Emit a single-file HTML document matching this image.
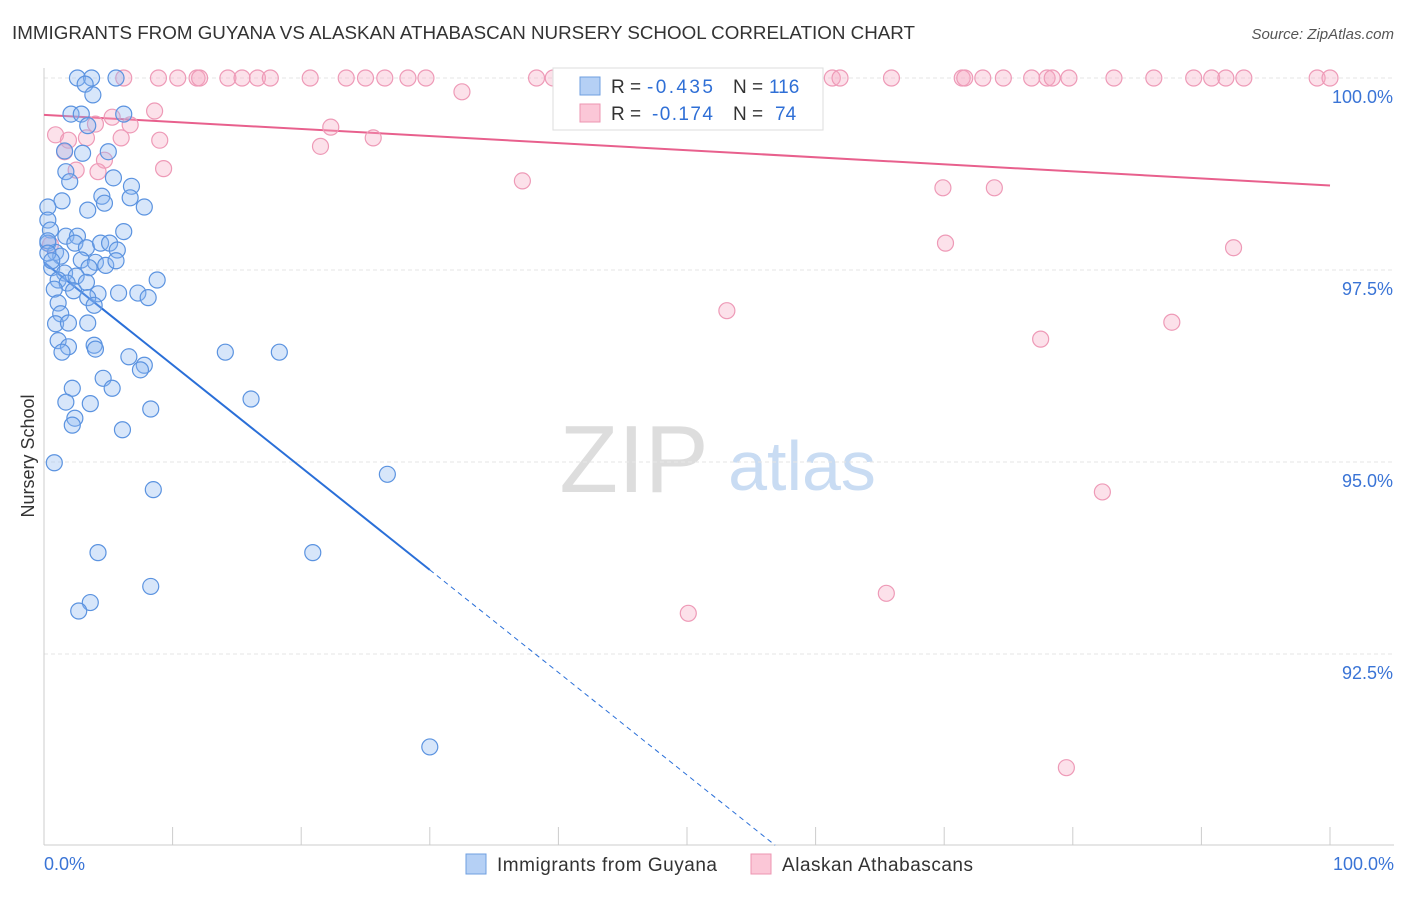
<!DOCTYPE html>
<html><head><meta charset="utf-8"><style>
body{margin:0;background:#fff;font-family:"Liberation Sans",sans-serif}
svg text{font-family:"Liberation Sans",sans-serif}
</style></head><body>
<svg id="chart" width="1406" height="892" xmlns="http://www.w3.org/2000/svg">
<text x="12" y="39" font-size="18" fill="#333" textLength="903" lengthAdjust="spacingAndGlyphs">IMMIGRANTS FROM GUYANA VS ALASKAN ATHABASCAN NURSERY SCHOOL CORRELATION CHART</text>
<text x="1394" y="39" font-size="15" fill="#555" text-anchor="end" font-style="italic">Source: ZipAtlas.com</text>
<text x="34" y="456" font-size="18" fill="#333" text-anchor="middle" transform="rotate(-90 34 456)">Nursery School</text>
<g><text x="634" y="492" font-size="96" fill="#ddd" text-anchor="middle" font-family="Liberation Serif">ZIP</text><text x="802" y="490" font-size="70" fill="#c9dcf3" text-anchor="middle">atlas</text></g>
<g id="grid"></g><g id="axes"></g><g id="lines"></g><g id="pts"></g>
<g>
<rect x="553" y="68" width="270" height="62" fill="#fff" stroke="#ddd"/>
<rect x="580" y="77" width="20" height="18" fill="#b5d0f5" stroke="#6f9fe0"/>
<rect x="580" y="104" width="20" height="18" fill="#fbc7d7" stroke="#ec95b2"/>
<text x="611" y="93" font-size="19" fill="#333">R =</text>
<text x="647" y="93" font-size="19" fill="#2f6fd6" textLength="66">-0.435</text>
<text x="733" y="93" font-size="19" fill="#333">N =</text>
<text x="769" y="93" font-size="19" fill="#2f6fd6">116</text>
<text x="611" y="120" font-size="19" fill="#333">R =</text>
<text x="652" y="120" font-size="19" fill="#2f6fd6" textLength="61">-0.174</text>
<text x="733" y="120" font-size="19" fill="#333">N =</text>
<text x="775" y="120" font-size="19" fill="#2f6fd6">74</text>
</g>
<g>
<rect x="466" y="854" width="20" height="20" fill="#b5d0f5" stroke="#6f9fe0"/>
<text x="497" y="871" font-size="19" fill="#333" textLength="220">Immigrants from Guyana</text>
<rect x="751" y="854" width="20" height="20" fill="#fbc7d7" stroke="#ec95b2"/>
<text x="782" y="871" font-size="19" fill="#333" textLength="191">Alaskan Athabascans</text>
</g>
</svg>
<script>
const yTicks=[100,97.5,95,92.5];
const yTickLabels=["100.0%","97.5%","95.0%","92.5%"];
const blueX=[2.6,3.7,5.6,3.2,3.8,2.1,2.9,6.2,3.4,1.6,3.0,5.0,1.7,2.0,5.4,6.8,4.5,1.4,4.7,6.7,7.8,0.3,3.4,0.3,0.5,1.7,2.6,6.2,0.3,2.4,3.3,4.4,5.1,5.7,0.9,1.3,2.9,4.0,4.8,5.6,3.5,0.6,1.6,2.5,1.1,1.8,3.3,8.8,0.8,2.3,4.2,5.8,7.3,8.1,3.4,1.1,3.9,1.3,0.9,1.9,3.4,1.1,3.9,1.9,1.4,4.0,6.6,7.8,7.5,14.1,18.3,4.6,2.2,5.3,1.7,3.6,8.3,16.1,2.4,2.2,6.1,0.8,26.7,8.5,4.2,20.9,8.3,3.6,2.7,30.0,0.3,0.3,0.6];
const blueY=[100,100,100,99.92,99.78,99.53,99.53,99.53,99.38,99.05,99.02,99.04,98.78,98.65,98.7,98.59,98.46,98.4,98.37,98.44,98.32,98.32,98.28,98.15,98.02,97.94,97.94,98.0,97.85,97.85,97.79,97.85,97.85,97.76,97.73,97.68,97.63,97.6,97.56,97.62,97.53,97.53,97.46,97.42,97.37,97.33,97.34,97.37,97.25,97.23,97.19,97.2,97.2,97.14,97.14,97.07,97.04,96.93,96.8,96.81,96.81,96.58,96.52,96.5,96.43,96.47,96.37,96.26,96.2,96.43,96.43,96.09,95.96,95.96,95.78,95.76,95.69,95.82,95.57,95.48,95.42,94.99,94.84,94.64,93.82,93.82,93.38,93.17,93.06,91.29,97.88,97.72,97.62];
const pinkX=[6.2,8.9,10.4,11.9,12.1,14.3,15.4,16.6,17.6,20.7,23.5,25.0,26.5,28.3,29.7,38.3,39.6,41.3,41.8,42.7,46.5,49.7,51.2,57.1,61.3,61.9,65.9,71.4,71.6,73.0,74.6,76.8,78.0,78.4,79.7,83.2,86.3,89.4,90.8,91.9,93.3,99.0,100,32.5,8.6,0.9,6.7,4.0,5.3,1.9,3.3,6.0,9.0,22.3,25.6,21.5,1.6,4.7,2.5,4.2,9.3,37.2,69.9,73.9,70.1,92.5,0.5,53.1,87.7,77.5,82.3,50.1,65.5,79.5];
const pinkY=[100,100,100,100,100,100,100,100,100,100,100,100,100,100,100,100,100,100,100,100,100,100,100,100,100,100,100,100,100,100,100,100,100,100,100,100,100,100,100,100,100,100,100,99.82,99.57,99.26,99.39,99.4,99.49,99.19,99.22,99.22,99.19,99.36,99.22,99.11,99.04,98.93,98.8,98.78,98.82,98.66,98.57,98.57,97.85,97.79,97.83,96.97,96.82,96.6,94.61,93.03,93.29,91.02];
const blueTrend=[97.6,-0.1335];
const pinkTrend=[99.52,-0.0092];
const NS="http://www.w3.org/2000/svg";
const X=v=>44+v*12.86, Y=v=>78+(100-v)*76.8;
function mk(p,t,a){const e=document.createElementNS(NS,t);for(const k in a)e.setAttribute(k,a[k]);document.getElementById(p).appendChild(e);return e;}
yTicks.forEach((t,i)=>{
 const l=mk('grid','line',{x1:44,x2:1394,y1:Y(t),y2:Y(t),stroke:'#e6e6e6','stroke-dasharray':'4,3'});
 
 
 const tx=mk('grid','text',{x:1393,y:Y(t)+25,'font-size':18,fill:'#3a74d6','text-anchor':'end'});tx.textContent=yTickLabels[i];
 
 
});
mk('axes','line',{x1:44,x2:1394,y1:845,y2:845,stroke:'#ccc'});
mk('axes','line',{x1:44,x2:44,y1:68,y2:845,stroke:'#ccc'});
for(let i=0;i<=10;i++){mk('axes','line',{x1:X(i*10),x2:X(i*10),y1:827,y2:845,stroke:'#ccc'});}
let a=mk('axes','text',{x:44,y:870,'font-size':18,fill:'#3a74d6'});a.textContent='0.0%';


a=mk('axes','text',{x:1394,y:870,'font-size':18,fill:'#3a74d6','text-anchor':'end'});a.textContent='100.0%';


const bEnd=30, bEnd2=(90.01-blueTrend[0])/blueTrend[1];
let ln=mk('lines','line',{x1:X(0),y1:Y(blueTrend[0]),x2:X(bEnd),y2:Y(blueTrend[0]+blueTrend[1]*bEnd),stroke:'#2a6fd8','stroke-width':2});


ln=mk('lines','line',{x1:X(bEnd),y1:Y(blueTrend[0]+blueTrend[1]*bEnd),x2:X(bEnd2),y2:Y(90.01),stroke:'#2a6fd8','stroke-width':1,'stroke-dasharray':'5,4'});


ln=mk('lines','line',{x1:X(0),y1:Y(pinkTrend[0]),x2:X(100),y2:Y(pinkTrend[0]+pinkTrend[1]*100),stroke:'#e8608d','stroke-width':2});


pinkX.forEach((x,i)=>{const c=mk('pts','circle',{cx:X(x),cy:Y(pinkY[i]),r:8,fill:'rgba(246,170,196,0.35)',stroke:'#ee9ab7','stroke-width':1.2});
 
 });
blueX.forEach((x,i)=>{const c=mk('pts','circle',{cx:X(x),cy:Y(blueY[i]),r:8,fill:'rgba(140,182,240,0.35)',stroke:'#5b93e0','stroke-width':1.2});
 
 });
</script>
</body></html>
